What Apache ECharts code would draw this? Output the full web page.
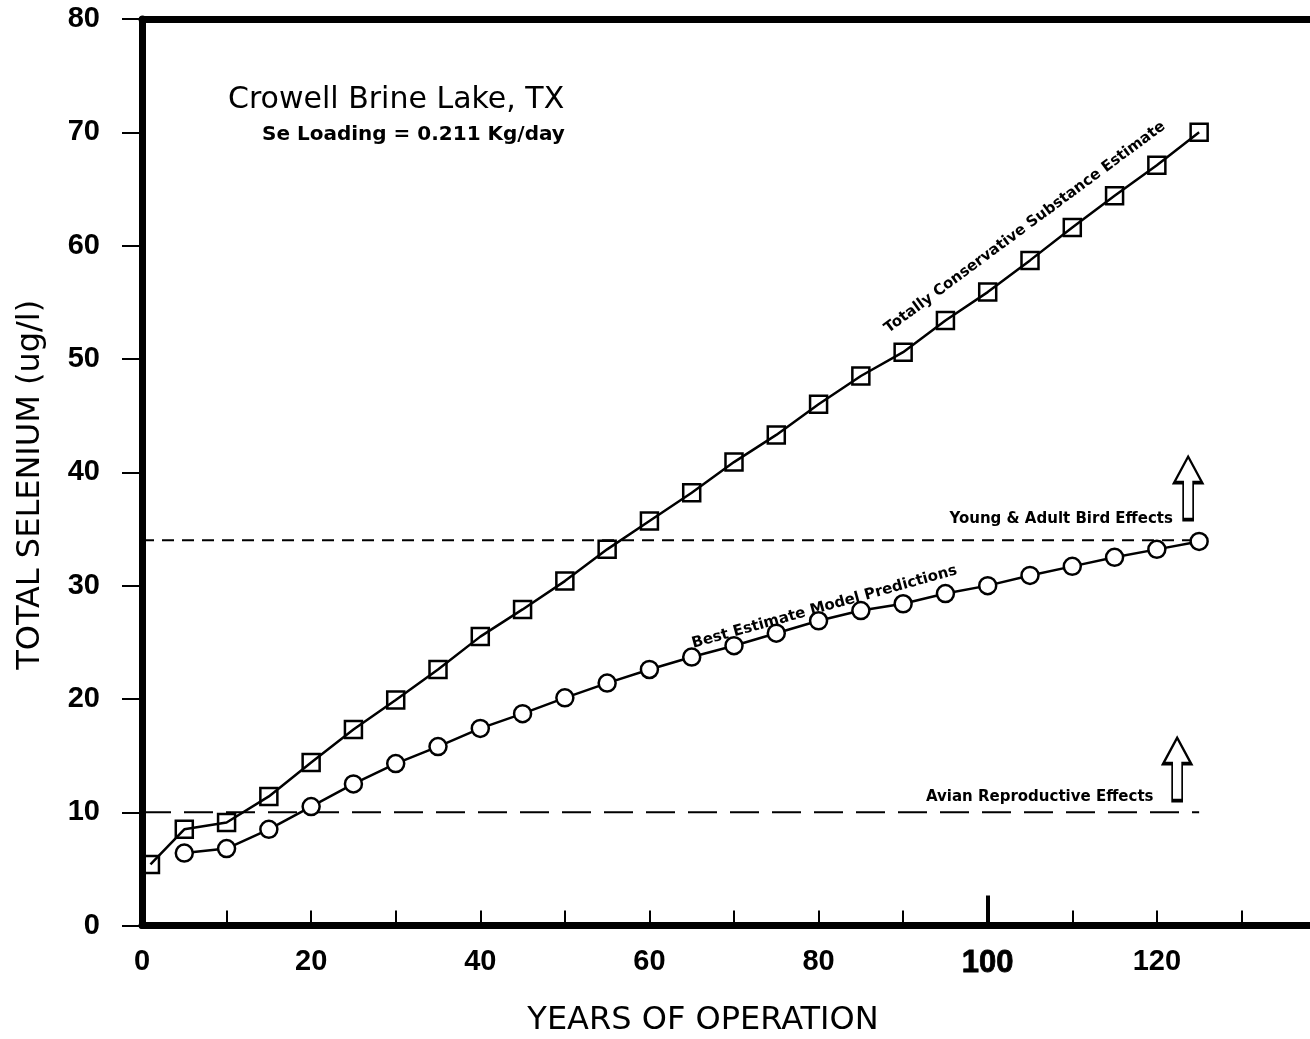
<!DOCTYPE html>
<html><head><meta charset="utf-8">
<script src="https://cdn.jsdelivr.net/npm/echarts@6/dist/echarts.min.js"></script>
<style>html,body{margin:0;padding:0;overflow:hidden;background:#fff}#c{width:1340px;height:1039px}</style>
</head><body><div id="c"></div><script>
// ---- data ----
const years = [1,5,10,15,20,25,30,35,40,45,50,55,60,65,70,75,80,85,90,95,100,105,110,115,120,125];
const conservative = [5.4,8.5,9.1,11.4,14.4,17.3,19.9,22.6,25.5,27.9,30.4,33.2,35.7,38.2,40.9,43.3,46.0,48.5,50.6,53.4,55.9,58.7,61.6,64.4,67.1,70.0];
const bestYears = [5,10,15,20,25,30,35,40,45,50,55,60,65,70,75,80,85,90,95,100,105,110,115,120,125];
const bestEstimate = [6.4,6.8,8.5,10.5,12.5,14.3,15.8,17.4,18.7,20.1,21.4,22.6,23.7,24.7,25.8,26.9,27.8,28.4,29.3,30.0,30.9,31.7,32.5,33.2,33.9];
const thresholdYears = [0,125];
const birdThreshold = 34;
const avianThreshold = 10;
const xLabelValues = [0,20,40,60,80,100,120];
const yLabelValues = [0,10,20,30,40,50,60,70,80];

const pair = (xs, ys) => xs.map((x,i)=>[x, ys[i]]);
const flat = (v) => thresholdYears.map(x=>[x, v]);
const arrowPath = 'path://M14,0L28,26L19,26L19,63L9,63L9,26L0,26Z';
const tickFont = '"Liberation Sans", Arial, sans-serif';
const textFont = '"DejaVu Sans", "Liberation Sans", sans-serif';

const chart = echarts.init(document.getElementById('c'), null, {renderer:'canvas'});
const option = {
  animation:false,
  backgroundColor:'#fff',
  grid:{left:142, right:14, top:19, bottom:113.4, containLabel:false, outerBoundsMode:'none'},
  title:[
    {text:'Crowell Brine Lake, TX', left:228, top:85, padding:0, textStyle:{fontFamily:textFont, fontSize:30, fontWeight:'normal', color:'#000'}},
    {text:'Se Loading = 0.211 Kg/day', left:262, top:125, padding:0, textStyle:{fontFamily:textFont, fontSize:20, fontWeight:'bold', color:'#000'}}
  ],
  xAxis:[
    {type:'value', min:0, max:140, interval:10, position:'bottom',
     name:'YEARS OF OPERATION', nameLocation:'middle', nameGap:79,
     nameTextStyle:{fontFamily:textFont, fontSize:32, color:'#000', padding:[0,62,0,0]},
     axisLine:{onZero:false, lineStyle:{color:'#000', width:7}},
     axisTick:{inside:true, length:15, lineStyle:{color:'#000', width:2}},
     axisLabel:{margin:22, fontFamily:tickFont, fontWeight:'bold', fontSize:29, color:'#000',
       formatter:(v)=> xLabelValues.includes(v) ? (v===100 ? '{b|100}' : String(v)) : '',
       rich:{b:{fontFamily:tickFont, fontWeight:'bold', fontSize:31, color:'#000', textBorderColor:'#000', textBorderWidth:0.8}}},
     splitLine:{show:false}},
    {type:'value', min:0, max:140, interval:100, position:'bottom',
     axisLine:{show:false}, axisLabel:{show:false}, splitLine:{show:false},
     axisTick:{inside:true, length:30, lineStyle:{color:'#000', width:4}}},
    {type:'value', min:0, max:140, position:'top',
     axisLine:{onZero:false, lineStyle:{color:'#000', width:7}},
     axisTick:{show:false}, axisLabel:{show:false}, splitLine:{show:false}}
  ],
  yAxis:{type:'value', min:0, max:80, interval:10,
     name:'TOTAL SELENIUM (ug/l)', nameLocation:'middle', nameGap:95, nameRotate:90,
     nameTextStyle:{fontFamily:textFont, fontSize:32, color:'#000', padding:[0,25,0,0]},
     axisLine:{show:true, onZero:false, lineStyle:{color:'#000', width:7}},
     axisTick:{show:true, inside:false, length:20, lineStyle:{color:'#000', width:2}},
     axisLabel:{margin:42, fontFamily:tickFont, fontWeight:'bold', fontSize:29, color:'#000',
       formatter:(v)=> yLabelValues.includes(v) ? String(v) : ''},
     splitLine:{show:false}},
  series:[
    {name:'Young & Adult Bird Effects', type:'line', data:flat(birdThreshold), symbol:'none', z:1,
     lineStyle:{color:'#000', width:2, type:[12,8]},
     markPoint:{symbol:arrowPath, symbolSize:[28,63], symbolKeepAspect:false, symbolOffset:[0,0],
       itemStyle:{color:'#fff', borderColor:'#000', borderWidth:2.5}, label:{show:false},
       data:[{coord:[123.7, 38.6]}]}},
    {name:'Avian Reproductive Effects', type:'line', data:flat(avianThreshold), symbol:'none', z:1,
     lineStyle:{color:'#000', width:2, type:[29,13]},
     markPoint:{symbol:arrowPath, symbolSize:[28,63], symbolKeepAspect:false, symbolOffset:[0,0],
       itemStyle:{color:'#fff', borderColor:'#000', borderWidth:2.5}, label:{show:false},
       data:[{coord:[122.4, 13.8]}]}},
    {name:'Totally Conservative Substance Estimate', type:'line', data:pair(years, conservative),
     symbol:'rect', symbolSize:17, z:3,
     lineStyle:{color:'#000', width:2.5},
     itemStyle:{color:'rgba(0,0,0,0)', borderColor:'#000', borderWidth:2.5}},
    {name:'Best Estimate Model Predictions', type:'line', data:pair(bestYears, bestEstimate),
     symbol:'circle', symbolSize:17, z:3,
     lineStyle:{color:'#000', width:2.5},
     itemStyle:{color:'#fff', borderColor:'#000', borderWidth:2.5}}
  ]
};
chart.setOption(option);

// annotation labels anchored in data coordinates
const annFont = 'bold 15px ' + textFont;
const ann = [
  {text:'Totally Conservative Substance Estimate', at:[104.4, 61.6], rot:36.5, align:'center'},
  {text:'Best Estimate Model Predictions', at:[80.7, 28.1], rot:15.6, align:'center'},
  {text:'Young & Adult Bird Effects', at:[121.9, 35.9], rot:0, align:'right'},
  {text:'Avian Reproductive Effects', at:[119.6, 11.35], rot:0, align:'right'}
];
const g = ann.map(a=>{
  const p = chart.convertToPixel({gridIndex:0}, a.at);
  return {type:'text', x:p[0], y:p[1], rotation:a.rot*Math.PI/180, z:10,
    style:{text:a.text, font:annFont, fill:'#000', align:a.align, verticalAlign:'middle'}};
});
chart.setOption({graphic:g});
</script></body></html>
